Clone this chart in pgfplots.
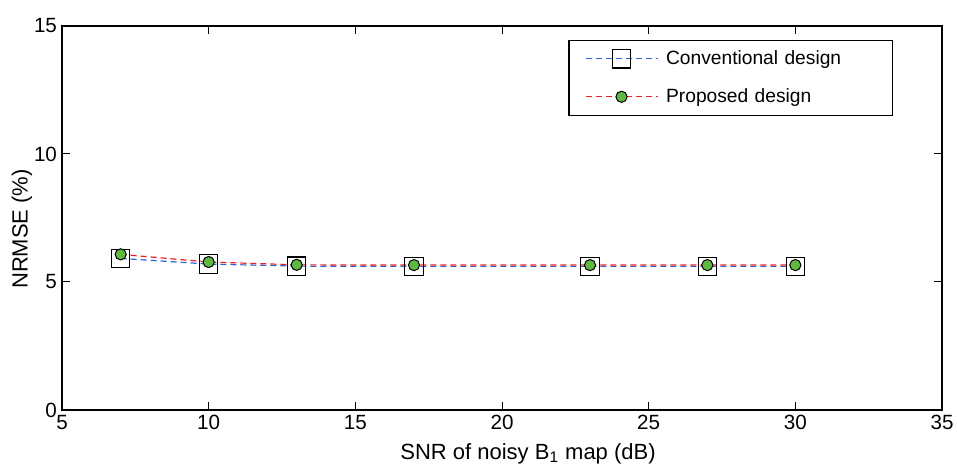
\documentclass[border=0pt]{standalone}
\usepackage{pgfplots}
\pgfplotsset{compat=1.18}
\usepackage{fontspec}
\setmainfont{Liberation Sans}
\definecolor{cblue}{RGB}{45,100,215}
\definecolor{cred}{RGB}{240,30,30}
\definecolor{cgreen}{RGB}{95,185,65}
\begin{document}
\fontsize{10}{12}\selectfont
\begin{tikzpicture}
\useasboundingbox (-31pt,-29.5pt) rectangle (447.5pt,205pt);
\begin{axis}[
  at={(0pt,0pt)}, anchor=south west,
  scale only axis,
  width=440pt, height=192pt,
  xmin=5, xmax=35, ymin=0, ymax=15,
  xtick={5,10,...,35}, ytick={0,5,10,15},
  tick align=inside,
  major tick length=4pt,
  axis line style={line width=0.6pt},
  tick style={line width=0.5pt, black},
  /pgf/number format/assume math mode=true,
  ticklabel style={font=\fontsize{10.3}{12}\selectfont},
  xticklabel style={yshift=1pt},
  yticklabel style={xshift=1pt},
  label style={font=\fontsize{11}{13}\selectfont},
  xlabel={SNR of noisy B\textsubscript{1} map (dB)},
  ylabel={NRMSE (\%)},
  xlabel style={yshift=0pt, xshift=13pt},
  ylabel style={yshift=-6pt, xshift=-5.5pt},
  legend style={at={(0.944,0.964)}, anchor=north east, draw=black, line width=0.6pt,
    font=\fontsize{9.6}{11.5}\selectfont, inner xsep=8pt, inner ysep=3pt,
    row sep=6.5pt, cells={anchor=west}, nodes={text width=101pt, inner xsep=4pt}},
  legend image code/.code={
    \draw[#1,mark repeat=2,mark phase=2] plot coordinates {(0pt,0pt) (18pt,0pt) (36pt,0pt)};
  },
]
\addplot[color=cblue, densely dashed, line width=0.6pt, mark=square, mark size=4.6pt,
  mark options={solid, draw=black, line width=0.6pt, fill=none}]
  coordinates {(7,5.92) (10,5.70) (13,5.62) (17,5.61) (23,5.61) (27,5.61) (30,5.61)};
\addlegendentry{Conventional design}
\addplot[color=cred, densely dashed, line width=0.6pt, mark=*, mark size=2.8pt,
  mark options={solid, draw=black, fill=cgreen, line width=0.5pt}]
  coordinates {(7,6.08) (10,5.78) (13,5.67) (17,5.66) (23,5.66) (27,5.66) (30,5.66)};
\addlegendentry{Proposed design}
\end{axis}
\end{tikzpicture}
\end{document}
